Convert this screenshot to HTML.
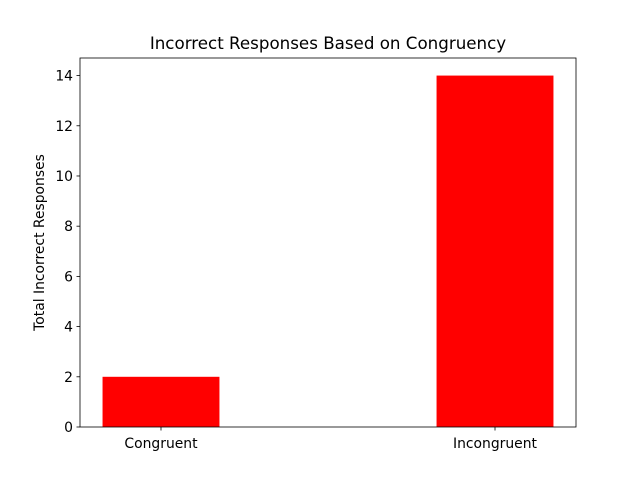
<!DOCTYPE html>
<html><head><meta charset="utf-8">
<style>
body{margin:0;background:#fff;}
svg{display:block;font-family:"DejaVu Sans","Liberation Sans",sans-serif;}
</style></head>
<body>
<svg id="chart" width="640" height="480"></svg>
<script>
const categories = ["Congruent", "Incongruent"];
const values = [2, 14];
const yTicks = [0, 2, 4, 6, 8, 10, 12, 14];

const NS = "http://www.w3.org/2000/svg";
const svg = document.getElementById("chart");
const L = 80, R = 576, T = 58, B = 427;
const barW = 0.35;
const yMax = Math.max(...values) * 1.05;
const xMin = -barW / 2 - 0.05 * ((categories.length - 1) + barW);
const xMax = (categories.length - 1) + barW / 2 + 0.05 * ((categories.length - 1) + barW);
const xs = v => L + (v - xMin) / (xMax - xMin) * (R - L);
const ys = v => B - v / yMax * (B - T);

function mk(tag, attrs, parent) {
  const e = document.createElementNS(NS, tag);
  for (const k in attrs) e.setAttribute(k, attrs[k]);
  (parent || svg).appendChild(e);
  return e;
}

values.forEach((v, i) => {
  const r = mk("rect", {x: xs(i - barW / 2), y: ys(v), width: xs(i + barW / 2) - xs(i - barW / 2), height: ys(0) - ys(v), fill: "#ff0000"});
  
  
});

const frame = mk("rect", {x: L, y: T, width: R - L, height: B - T, fill: "none", stroke: "#000", "stroke-width": 0.8});



yTicks.forEach(t => {
  const y = ys(t);
  mk("line", {x1: L - 3.5, x2: L, y1: y, y2: y, stroke: "#000", "stroke-width": 0.8});
  const tx = mk("text", {x: L - 7, y: y + 5, "text-anchor": "end", "font-size": 13.9, fill: "#000"});
  tx.textContent = t;
  
  
});

categories.forEach((c, i) => {
  const x = xs(i);
  mk("line", {x1: x, x2: x, y1: B, y2: B + 3.5, stroke: "#000", "stroke-width": 0.8});
  const tx = mk("text", {x: x, y: B + 21, "text-anchor": "middle", "font-size": 13.9, fill: "#000"});
  tx.textContent = c;
  
  
});

const title = mk("text", {x: (L + R) / 2, y: 49, "text-anchor": "middle", "font-size": 16.7, fill: "#000"});
title.textContent = "Incorrect Responses Based on Congruency";



const yl = mk("text", {x: 0, y: 0, "text-anchor": "middle", "font-size": 13.9, fill: "#000", transform: "translate(44," + ((T + B) / 2) + ") rotate(-90)"});
yl.textContent = "Total Incorrect Responses";


</script>
</body></html>
